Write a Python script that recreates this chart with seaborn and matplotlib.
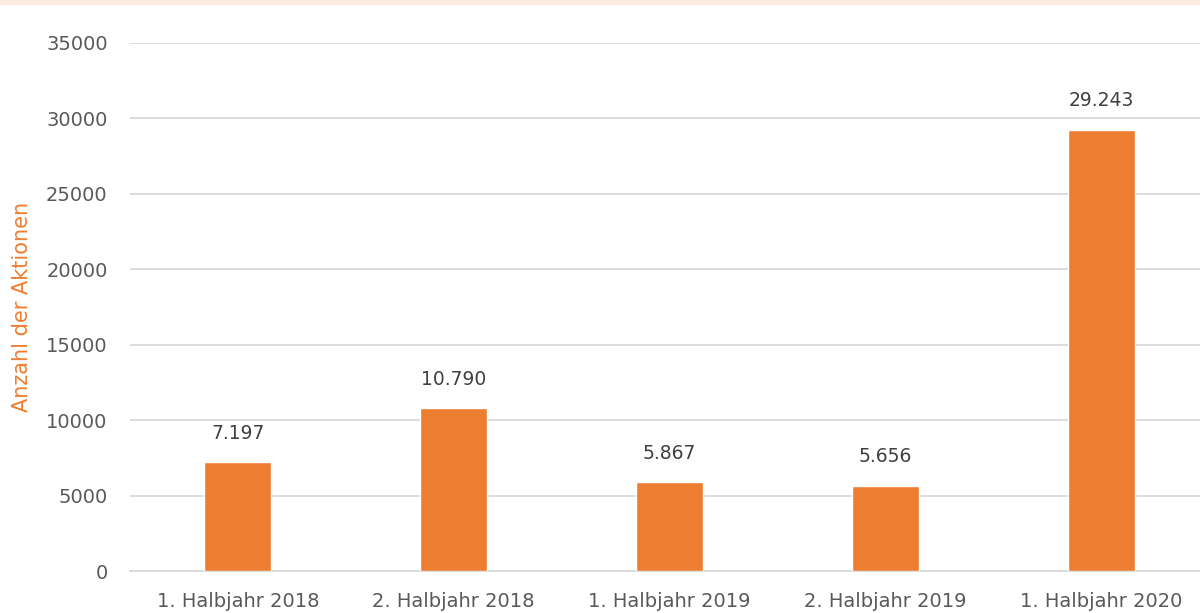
import matplotlib
matplotlib.use('Agg')
import matplotlib.pyplot as plt
import seaborn as sns
import pandas as pd

# Daten aus dem Diagramm
kategorien = ['1. Halbjahr 2018', '2. Halbjahr 2018', '1. Halbjahr 2019',
              '2. Halbjahr 2019', '1. Halbjahr 2020']
aktionen = [7197, 10790, 5867, 5656, 29243]
beschriftung = ['7.197', '10.790', '5.867', '5.656', '29.243']
y_ticks = [0, 5000, 10000, 15000, 20000, 25000, 30000, 35000]

df = pd.DataFrame({'halbjahr': kategorien, 'anzahl': aktionen})

sns.set_style('white')
plt.rcParams['font.family'] = ['DejaVu Sans']

fig = plt.figure(figsize=(12, 6.13), dpi=100)
# rosa Streifen oben
fig.patches.append(plt.Rectangle((0, 0.993), 1, 0.007, transform=fig.transFigure,
                                 color='#FCEBE3', zorder=0))
ax = fig.add_axes([0.1083, 0.0685, 0.8992, 0.8614])

sns.barplot(data=df, x='halbjahr', y='anzahl', color='#ED7D31', width=0.31,
            saturation=1, ax=ax, zorder=3)

for i, txt in enumerate(beschriftung):
    ax.annotate(txt, (i, aktionen[i]), xytext=(0, 14), textcoords='offset points',
                ha='center', va='bottom', fontsize=13.5, color='#404040')

ax.set_ylim(0, 35000)
ax.set_yticks(y_ticks)
ax.set_yticklabels([str(t) for t in y_ticks])
ax.yaxis.grid(True, color='#D9D9D9', linewidth=1.3, zorder=0)
ax.set_axisbelow(True)
for s in ['top', 'right', 'left']:
    ax.spines[s].set_visible(False)
ax.spines['bottom'].set_color('#D9D9D9')
ax.spines['bottom'].set_linewidth(1.3)
ax.tick_params(axis='both', length=0, labelsize=14, colors='#595959')
ax.tick_params(axis='y', pad=16)
ax.tick_params(axis='x', pad=15)
ax.set_xlabel('')
ax.set_ylabel('Anzahl der Aktionen', color='#ED7D31', fontsize=15)
ax.yaxis.set_label_coords(-0.091, 0.5)

fig.savefig('out.png', dpi=100)
